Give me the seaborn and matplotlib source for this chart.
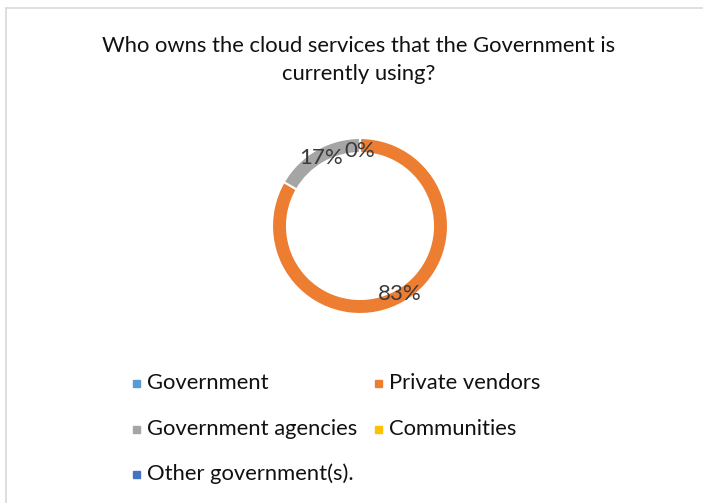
import numpy as np
import matplotlib
matplotlib.use("Agg")
import matplotlib.pyplot as plt
import seaborn as sns
from matplotlib.lines import Line2D
from matplotlib.patches import Rectangle

sns.set_theme(style="white")
plt.rcParams["font.family"] = ["Lato", "DejaVu Sans"]

categories = ["Government", "Private vendors", "Government agencies",
              "Communities", "Other government(s)."]
counts = [0, 5, 1, 0, 0]
pct_labels = ["0%", "83%", "17%", "0%", "0%"]
colors = ["#5B9BD5", "#ED7D31", "#A5A5A5", "#FFC000", "#4472C4"]

W, H = 703, 503
fig = plt.figure(figsize=(W / 100, H / 100), dpi=100)
fig.patch.set_facecolor("white")

# chart frame: top and left edges only
fig.add_artist(Line2D([6 / W, 1], [1 - 8 / H, 1 - 8 / H], color="#D9D9D9", lw=1.2))
fig.add_artist(Line2D([6 / W, 6 / W], [0, 1 - 8 / H], color="#D9D9D9", lw=1.2))

fig.text(359 / W, 1 - 46 / H,
         "Who owns the cloud services that the Government is",
         ha="center", va="center", fontsize=15.8, color="#111111")
fig.text(359 / W, 1 - 74 / H, "currently using?",
         ha="center", va="center", fontsize=15.8, color="#111111")

# donut axes centered at (360, 226), outer radius ~88 px
cx, cy, R = 360, 226, 88
ax = fig.add_axes([(cx - R) / W, 1 - (cy + R) / H, 2 * R / W, 2 * R / H])
ring = 15 / R
wedges, _ = ax.pie(counts, colors=colors, startangle=90, counterclock=False,
                   radius=1.0, wedgeprops=dict(width=ring, edgecolor="white", linewidth=1.5))
ax.set_xlim(-1, 1)
ax.set_ylim(-1, 1)
ax.set_aspect("equal")
ax.axis("off")

# percentage labels at the middle of each ring segment
total = sum(counts)
start = 0.0
seen = set()
for v, lab in zip(counts, pct_labels):
    frac = v / total
    mid = start + frac / 2
    start += frac
    ang = np.deg2rad(90 - 360 * mid)
    rr = 1 - ring / 2 - 0.02
    x, y = rr * np.cos(ang), rr * np.sin(ang)
    if v == 0:
        y -= 0.04
    key = (round(x, 2), round(y, 2))
    if key in seen:
        continue
    seen.add(key)
    ax.text(x, y, lab, ha="center", va="center", fontsize=16, color="#3a3a3a")

# legend laid out in two columns
legend_pos = [(136, 383), (378, 383), (136, 429), (378, 429), (136, 474)]
for (lx, ly), name, col in zip(legend_pos, categories, colors):
    s = 7
    fig.add_artist(Rectangle(((lx - s / 2) / W, 1 - (ly + s / 2) / H), s / W, s / H,
                             color=col, transform=fig.transFigure))
    fig.text((lx + 11) / W, 1 - ly / H, name, ha="left", va="center",
             fontsize=15.8, color="#111111")

fig.savefig("out.png", dpi=100, facecolor="white")
